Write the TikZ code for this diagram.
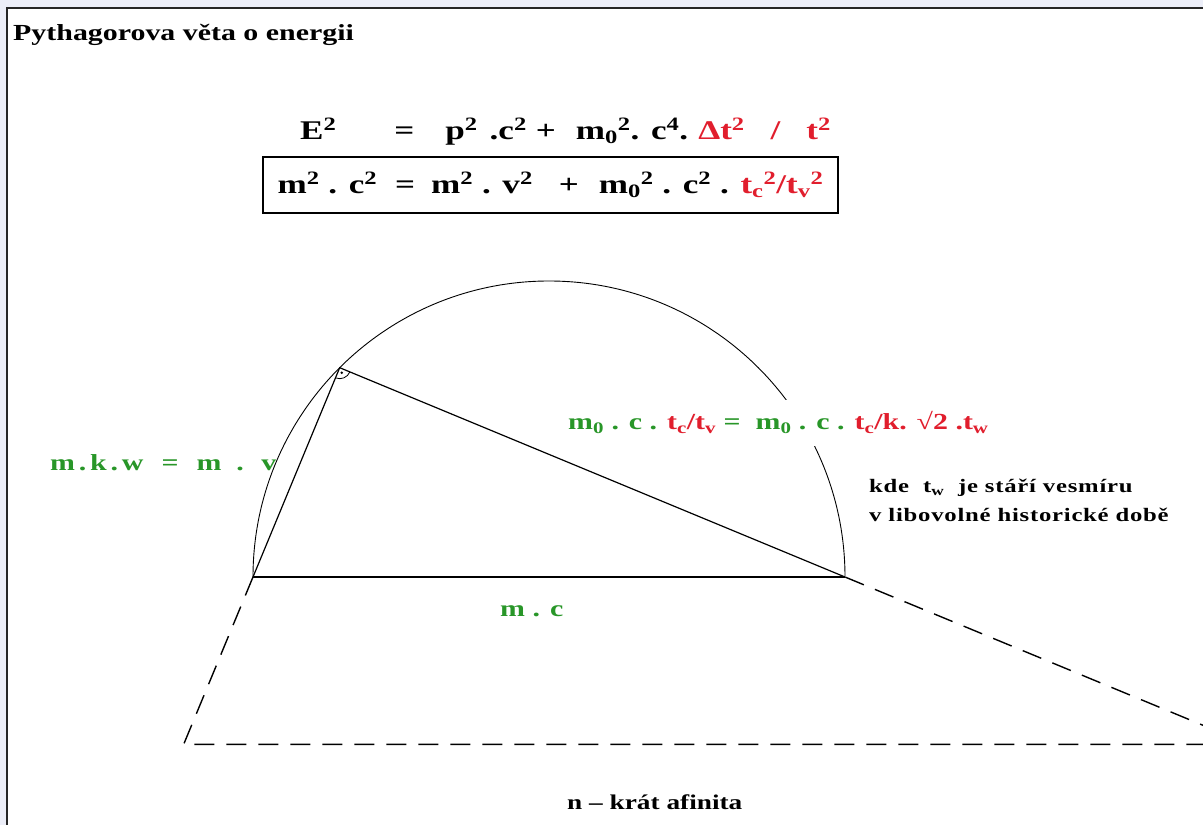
\documentclass[tikz,border=0pt]{standalone}
\usepackage{fontspec}
\setmainfont[FakeStretch=1.3]{Liberation Serif}
\newfontfamily\widefont[FakeStretch=1.3, LetterSpace=4]{Liberation Serif}
\usetikzlibrary{calc,positioning}
\definecolor{eqgreen}{RGB}{40,150,40}
\definecolor{eqred}{RGB}{225,30,45}
\definecolor{frameback}{RGB}{236,238,248}
\newcommand\ex[1]{\textsuperscript{#1}}
\newcommand\ix[1]{\textsubscript{#1}}

\begin{document}
\begin{tikzpicture}[x=1pt, y=1pt]
    \tikzset{
      eqtext/.style={anchor=base west, inner sep=0pt, font=\bfseries\fontsize{27}{31}\selectfont},
      lbl/.style={anchor=base west, inner sep=0pt, font=\bfseries\fontsize{23}{27}\selectfont, text=eqgreen},
      note/.style={anchor=base west, inner sep=0pt, font=\widefont\bfseries\fontsize{19}{23}\selectfont},
      side/.style={line width=1.2pt},
      afin/.style={line width=1.4pt, dash pattern=on 20pt off 12pt}
    }
    % frame of the screenshot
    \useasboundingbox (0,0) rectangle (1203,825);
    \fill[frameback] (0,0) rectangle (1203,825);
    \fill[white] (7,0) rectangle (1203,817);
    \draw[line width=2pt, black!85] (7,0) -- (7,817) -- (1203,817);
    \clip (8,0) rectangle (1203,816);

    \node[anchor=base west, inner sep=0pt, font=\bfseries\fontsize{23}{27}\selectfont] (title) at (13,784) {Pythagorova věta o energii};

    % equations
    \node[eqtext] (eqone) at (300,685) {E\ex{2}\hspace{58pt}=\hspace{31pt}p\ex{2}\hspace{12pt}.c\ex{2}\hspace{9pt}+\hspace{20pt}m\ix{0}\ex{2}. c\ex{4}.\hspace{10pt}{\color{eqred}Δt\ex{2}\hspace{26pt}/\hspace{26pt}t\ex{2}}};
    \node[draw, line width=1.2pt, minimum width=575pt, minimum height=56pt, inner sep=0pt, font=\bfseries\fontsize{27}{31}\selectfont] (eqtwo) at (550.5,640)
      {m\ex{2} . c\ex{2}\hspace{18pt}=\hspace{16pt}m\ex{2} . v\ex{2}\hspace{26pt}+\hspace{20pt}m\ix{0}\ex{2} . c\ex{2} . {\color{eqred}t\ix{c}\ex{2}/t\ix{v}\ex{2}}};

    % triangle in the half circle
    \coordinate (O) at (549,248);
    \coordinate (A) at (253,248);
    \coordinate (B) at (845,248);
    \coordinate (C) at ($(O)+(135:296)$);
    \coordinate (D) at ($(C)!1.8!(A)$);
    \coordinate (E) at ($(C)!1.8!(B)$);
    \draw[line width=0.9pt] (B) arc[start angle=0, end angle=180, radius=296pt];
    \draw[side] (A) -- (B);
    \draw[side] (B) -- (C) -- (A);
    \draw[line width=0.8pt] ($(C)+(247.5:11)$) arc[start angle=247.5, end angle=337.5, radius=11pt];
    \fill ($(C)+(292.5:5.5)$) circle (1.4pt);

    % n-times affinity
    \draw[afin] (A) -- (D) -- (E) -- (B);

    \node[lbl] (vside) at (50,354) {m\,.\,k\,.\,w\hspace{18pt}=\hspace{18pt}m \ . \ v};
    \node[lbl, fill=white, inner ysep=12pt] (cside) at (568,395)
      {m\ix{0} . c . {\color{eqred}t\ix{c}/t\ix{v}} = \ m\ix{0} . c . {\color{eqred}t\ix{c}/k. √2 .t\ix{w}}};
    \node[lbl] (hyp) at (500,208) {m . c};

    \node[note] (kde) at (869,332) {kde \ t\ix{w} \ je stáří vesmíru};
    \node[note] (doba) at (869,303) {v libovolné historické době};
    \node[note, font=\bfseries\fontsize{21}{25}\selectfont] (afinita) at (567,15) {n – krát afinita};
\end{tikzpicture}
\end{document}
